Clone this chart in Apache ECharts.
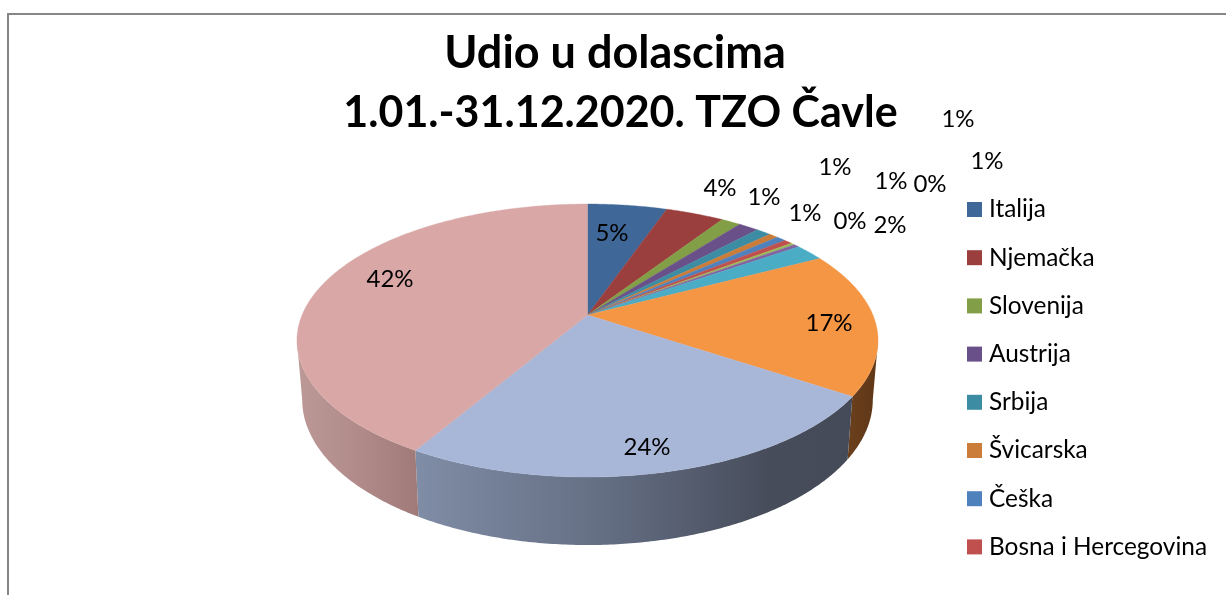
<!DOCTYPE html>
<html>
<head>
<meta charset="utf-8">
<title>Udio u dolascima</title>
<script src="https://cdn.jsdelivr.net/npm/echarts@6/dist/echarts.min.js"></script>
<style>
  html, body { margin: 0; padding: 0; background: #fff; }
  #chart { width: 1226px; height: 595px; }
</style>
</head>
<body>
<div id="chart"></div>
<script>
// legend shows only the first 8 names, the rest are cut off in the source picture
const names = ["Italija", "Njemačka", "Slovenija", "Austrija", "Srbija", "Švicarska", "Češka", "Bosna i Hercegovina",
  "Ostalo 9", "Ostalo 10", "Ostalo 11", "Ostalo 12", "Ostalo 13", "Ostalo 14"];
const values = [5.3, 3.9, 1.3, 1.35, 1.0, 0.6, 0.65, 0.55, 0.25, 0.4, 2.0, 17.1, 24.1, 41.6];
const legendNames = names.slice(0, 8);
const colors = ["#3F6797", "#9A3F3D", "#829F47", "#6A5088", "#3C8DA3", "#CB7C38", "#4F81BD", "#C0504D",
  "#9BBB59", "#8064A2", "#4BACC6", "#F49644", "#A8B7D7", "#D8A7A6"];
// hand placed data labels, centre of the text
const labelX = [612, 720, 764, 805, 835, 891, 958, 987, 850, 930, 890, 829, 647, 390];
const labelY = [233, 188, 197, 213, 167, 181, 119, 161, 221, 184, 225, 323, 447, 279];
// side wall shading, left to right along the screen
const wallColors = {
  11: [[0, "#6A3F1C"], [1, "#5F3818"]],
  12: [[0, "#808DA6"], [0.45, "#636D82"], [0.8, "#474D5B"], [1, "#444A57"]],
  13: [[0, "#BC9896"], [0.5, "#B08B89"], [1, "#A07A78"]]
};

// pie seen in perspective: top face and bottom face
const cx = 587.5;
const cy = 315;
const depthK = 0.187;
const radiusX = 285.4;
const radiusY = 131.7;
const bottomCy = 372.5;
const bottomX = 0.982;
const bottomY = 1.065;
const total = values.reduce((sum, value) => sum + value, 0);
// the wall is only seen between the two widest points of the top face
const wallStart = Math.acos(-depthK);
const wallEnd = Math.PI * 2 - wallStart;

const topPoint = angle => {
  const w = 1 + depthK * Math.cos(angle);
  return [cx + (radiusX * Math.sin(angle)) / w, cy - (radiusY * Math.cos(angle)) / w];
};
const bottomPoint = angle => {
  const w = 1 + depthK * Math.cos(angle);
  return [cx + (bottomX * radiusX * Math.sin(angle)) / w, bottomCy - (bottomY * radiusY * Math.cos(angle)) / w];
};
const sliceAngles = index => {
  const before = values.slice(0, index).reduce((sum, value) => sum + value, 0);
  return [(before / total) * Math.PI * 2, ((before + values[index]) / total) * Math.PI * 2];
};
const arcPoints = (pointAt, from, to) => {
  const steps = Math.max(2, Math.ceil((to - from) / 0.01));
  const points = [];
  for (let i = 0; i <= steps; i++) {
    points.push(pointAt(from + ((to - from) * i) / steps));
  }
  return points;
};

const renderSlice = (params, api) => {
  const index = params.seriesIndex - 1;
  const angles = sliceAngles(index);
  const percent = Math.round((api.value(0) / total) * 100);
  return {
    type: "group",
    children: [
      {
        type: "polygon",
        shape: { points: [[cx, cy]].concat(arcPoints(topPoint, angles[0], angles[1])) },
        style: { fill: colors[index], stroke: colors[index], lineWidth: 0.4 }
      },
      {
        type: "text",
        z2: 100,
        x: labelX[index],
        y: labelY[index],
        style: {
          text: percent + "%",
          align: "center",
          verticalAlign: "middle",
          fontFamily: "Lato",
          fontSize: 24,
          fill: "#000"
        }
      }
    ]
  };
};

const renderWall = (params, api) => {
  const index = api.value(0);
  const stops = wallColors[index];
  const angles = sliceAngles(index);
  const from = Math.max(angles[0], wallStart);
  const to = Math.min(angles[1], wallEnd);
  const top = arcPoints(topPoint, from, to);
  const bottom = arcPoints(bottomPoint, from, to).reverse();
  return {
    type: "polygon",
    shape: { points: top.concat(bottom) },
    style: {
      fill: new echarts.graphic.LinearGradient(0, 0, 1, 0, stops.map(stop => ({ offset: stop[0], color: stop[1] }))),
      stroke: null
    }
  };
};

const sliceSeries = names.map((name, index) => ({
  type: "custom",
  name: name,
  coordinateSystem: "none",
  z: 2,
  silent: true,
  animation: false,
  itemStyle: { color: colors[index] },
  renderItem: renderSlice,
  data: [[values[index]]]
}));

const wallSeries = {
  type: "custom",
  name: "wall",
  coordinateSystem: "none",
  z: 1,
  silent: true,
  animation: false,
  renderItem: renderWall,
  data: Object.keys(wallColors).map(key => [Number(key)])
};

const titleStyle = { fontFamily: "Lato", fontWeight: "bold", color: "#000" };

const chart = echarts.init(document.getElementById("chart"), null, { renderer: "canvas" });
chart.setOption({
  backgroundColor: "#fff",
  animation: false,
  title: [
    {
      text: "Udio u dolascima",
      left: 610,
      top: 26,
      textAlign: "center",
      textStyle: Object.assign({ fontSize: 45 }, titleStyle)
    },
    {
      text: "1.01.-31.12.2020. TZO Čavle",
      left: 615.5,
      top: 87,
      textAlign: "center",
      textStyle: Object.assign({ fontSize: 43 }, titleStyle)
    }
  ],
  legend: {
    orient: "vertical",
    left: 967,
    top: 197.5,
    padding: 0,
    itemWidth: 15,
    itemHeight: 15,
    itemGap: 24.2,
    icon: "rect",
    data: legendNames,
    selectedMode: false,
    textStyle: { fontFamily: "Lato", fontSize: 24.4, color: "#000", padding: [0, 0, 0, 2] }
  },
  graphic: [
    { type: "polyline", silent: true, shape: { points: [[8, 595], [8, 14], [1226, 14]] }, style: { stroke: "#868686", lineWidth: 2, fill: null } }
  ],
  series: [wallSeries].concat(sliceSeries)
});
</script>
</body>
</html>
